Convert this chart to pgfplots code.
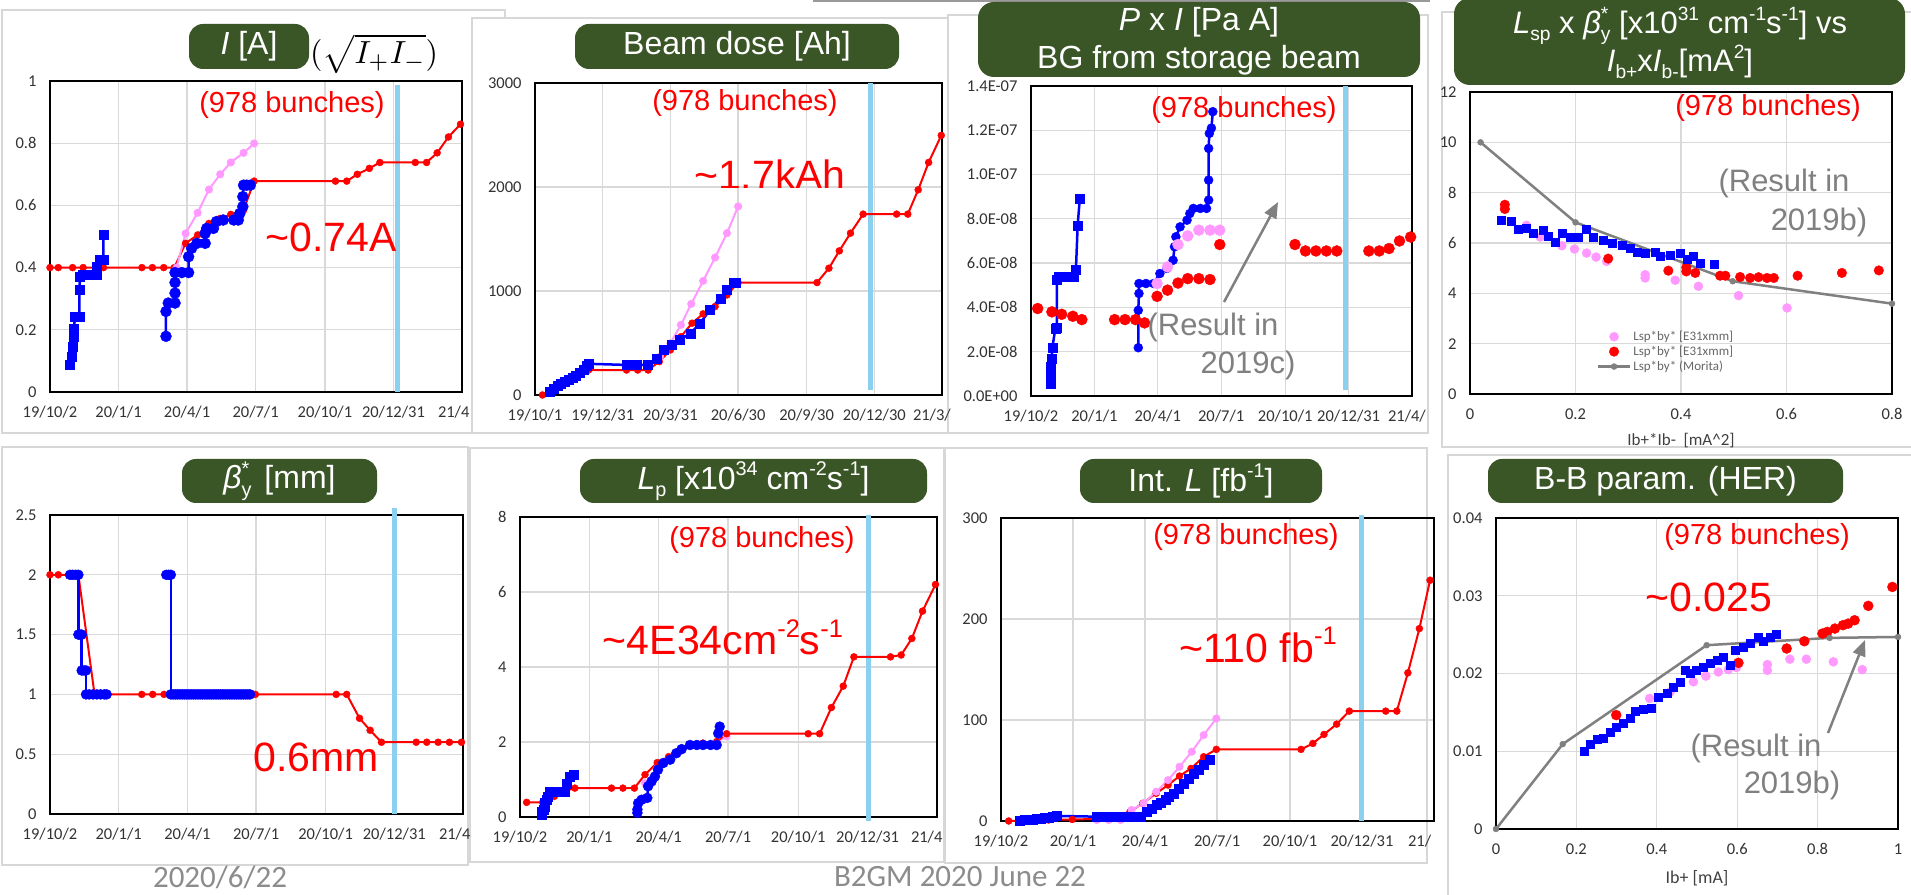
\documentclass[border=0pt]{standalone}
\usepackage{fontspec}
\setmainfont{Liberation Sans}
\newfontfamily\carl{Carlito}
\usepackage{graphicx}
\usepackage{pgfplots}
\pgfplotsset{compat=1.18}
\usetikzlibrary{arrows.meta}
\definecolor{tgreen}{RGB}{58,86,38}
\definecolor{myred}{RGB}{255,0,0}
\definecolor{myblue}{RGB}{0,0,255}
\definecolor{mypink}{RGB}{255,153,255}
\definecolor{mygray}{RGB}{128,128,128}
\definecolor{cyanl}{RGB}{140,208,240}
\definecolor{gridc}{RGB}{217,217,217}
\definecolor{framec}{RGB}{215,215,215}
\definecolor{txtgray}{RGB}{128,128,128}
\definecolor{footgray}{RGB}{140,140,140}
\newcommand\up[1]{\raisebox{0.42em}{\scalebox{0.62}{#1}}}
\newcommand\dn[1]{\raisebox{-0.22em}{\scalebox{0.62}{#1}}}
\newcommand\stk[2]{\rlap{\up{#2}}\dn{#1}}
\newcommand\ttl{\fontsize{32}{34}\selectfont}
\newcommand\tbox[5]{\fill[tgreen, rounded corners=14pt] (#1,#2) rectangle (#3,#4);
  \node[text=white, font=\ttl, inner sep=0pt] at ({(#1+#3)/2},{(#2+#4)/2}) {#5};}
\tikzset{cyanline/.style={draw=cyanl, line width=5pt}}
\pgfplotsset{
 panel/.style={scale only axis, anchor=south west, clip=false,
  axis line style={line width=1.4pt, black},
  grid=major, grid style={draw=gridc, line width=1.3pt},
  major tick length=0pt,
  tick label style={font=\carl\fontsize{16.5}{16.5}\selectfont, text=black!80},
  xticklabel style={yshift=-11pt}, yticklabel style={xshift=-10pt},
  scaled ticks=false},
 dates/.style={xmin=0, xmax=547, xtick={0,91,182,273,365,456,547}},
 redl/.style={color=myred, line width=2pt, mark=*, mark size=3.5pt, mark options={line width=0.4pt, fill=myred}},
 pinkl/.style={color=mypink, line width=2pt, mark=*, mark size=3.8pt, mark options={line width=0.4pt, fill=mypink}},
 bluesq/.style={color=myblue, line width=2.5pt, mark=square*, mark size=4.5pt, mark options={line width=0.4pt, fill=myblue}},
 bluec/.style={color=myblue, line width=2.5pt, mark=*, mark size=5pt, mark options={line width=0.4pt, fill=myblue}},
}
\begin{document}
\begin{tikzpicture}
\useasboundingbox (0,0) rectangle (1911pt,894pt);
\fill[white] (0,0) rectangle (1911pt,894pt);
\begin{scope}[x=1pt,y=-1pt,yshift=894pt]
\draw[framec, line width=1.2pt, fill=white] (2,10) rectangle (505,433);
\draw[framec, line width=1.2pt, fill=white] (472,18) rectangle (957,433);
\draw[framec, line width=1.2pt, fill=white] (948,15) rectangle (1428,433);
\draw[framec, line width=1.2pt, fill=white] (1442,12) rectangle (1915,447);
\draw[framec, line width=1.2pt, fill=white] (2,447) rectangle (468,865);
\draw[framec, line width=1.2pt, fill=white] (470,448) rectangle (944,862);
\draw[framec, line width=1.2pt, fill=white] (945,448) rectangle (1427,863);
\draw[framec, line width=1.2pt, fill=white] (1448,455) rectangle (1915,900);
\draw[gray!80, line width=3pt] (813,1) -- (1430,1);
\end{scope}

% ---------------- Panel 1: I [A]
\begin{axis}[panel, dates, at={(50pt,502pt)}, width=412pt, height=311pt,
  ymin=0, ymax=1, ytick={0,0.2,0.4,0.6,0.8,1}, yticklabels={0,0.2,0.4,0.6,0.8,1},
  xticklabels={19/10/2,20/1/1,20/4/1,20/7/1,20/10/1,20/12/31,{\makebox[0pt][l]{\hspace{-24pt}21/4}}}]
\draw[cyanline] (axis cs:462,0) -- (axis cs:462,0.987);
\addplot[redl] coordinates {(0,0.40) (11,0.40) (30,0.40) (44,0.40) (71,0.40) (122,0.40) (136,0.40) (151,0.40) (165,0.40) (180,0.478) (196,0.505) (211,0.542) (226,0.558) (240,0.571) (257,0.585) (271,0.678) (379,0.678) (394,0.678) (408,0.70) (424,0.719) (438,0.738) (485,0.738) (500,0.738) (514,0.769) (529,0.82) (545,0.861)};
\addplot[pinkl] coordinates {(168,0.40) (180,0.51) (196,0.576) (211,0.651) (226,0.70) (240,0.738) (257,0.769) (271,0.799)};
\addplot[bluesq] coordinates {(26.6,0.088) (28.8,0.115) (30,0.145) (31,0.178) (31.9,0.205) (33.2,0.243) (39,0.243) (39,0.328) (39.9,0.371) (44,0.376) (53,0.376) (62,0.376) (62,0.403) (66,0.425) (71,0.425) (71,0.505)};
\addplot[bluec, mark size=5.5pt] coordinates {(154,0.179) (154,0.259) (157,0.286) (166,0.286) (166,0.318) (166,0.352) (166,0.384) (175,0.384) (184,0.384) (184,0.435) (188,0.462) (195,0.478) (206,0.478) (206,0.51) (208,0.526) (217,0.526) (221,0.548) (230,0.553) (244,0.553) (250,0.553) (252,0.574) (256,0.596) (256,0.628) (257,0.665) (261,0.665) (266,0.665)};
\end{axis}

% ---------------- Panel 2: Beam dose
\begin{axis}[panel, dates, at={(535pt,499pt)}, width=407pt, height=312pt,
  ymin=0, ymax=3000, ytick={0,1000,2000,3000}, yticklabels={0,1000,2000,3000},
  xticklabels={19/10/1,19/12/31,20/3/31,20/6/30,20/9/30,20/12/30,{\makebox[0pt][l]{\hspace{-29pt}21/3/}}}]
\draw[cyanline] (axis cs:450.5,50) -- (axis cs:450.5,3000);
\addplot[redl] coordinates {(10,0) (25,60) (40,120) (55,180) (72,240) (123,240) (138,240) (152,240) (167,321) (182,433) (196,560) (211,690) (226,780) (242,850) (258,962) (273,1081) (379,1081) (395,1219) (409,1386) (424,1556) (441,1739) (486,1739) (501,1739) (515,1973) (529,2236) (546,2496)};
\addplot[pinkl] coordinates {(168,369) (182,497) (196,674) (210,876) (226,1097) (242,1322) (258,1556) (273,1813)};
\addplot[bluesq] coordinates {(20,32) (25,60) (30,85) (35,105) (40,125) (45,150) (50,170) (55,190) (60,215) (65,245) (70,280) (72,300) (123,289) (137,289) (152,289) (164,353) (173,433) (184,481) (195,530) (209,594) (222,690) (235,818) (249,930) (258,1011) (267,1075) (270,1080)};
\end{axis}

% ---------------- Panel 3: P x I
\begin{axis}[panel, dates, at={(1031pt,498pt)}, width=381pt, height=310pt,
  ymin=0, ymax=14, ytick={0,2,4,6,8,10,12,14},
  yticklabels={0.0E+00,2.0E-08,4.0E-08,6.0E-08,8.0E-08,1.0E-07,1.2E-07,1.4E-07},
  xticklabels={19/10/2,20/1/1,20/4/1,20/7/1,20/10/1,20/12/31,{\makebox[0pt][l]{\hspace{-24pt}21/4/}}}]
\draw[cyanline] (axis cs:452,0.27) -- (axis cs:452,14);
\addplot[bluesq] coordinates {(27.7,0.56) (28,0.9) (28.7,1.31) (29.5,1.7) (30.6,2.2) (35,3.04) (37,3.1) (37,5.23) (40,5.38) (50,5.38) (61,5.38) (64.5,5.71) (67,7.71) (70,8.9)};
\addplot[bluec, mark size=4.5pt] coordinates {(154,2.18) (154,3.87) (155,4.63) (155,5.08) (165,5.08) (176,5.08) (185,5.53) (195,5.76) (204,6.13) (206,6.74) (208,7.19) (214,7.64) (224,7.94) (228,8.24) (233,8.47) (243,8.47) (252,8.47) (255,8.85) (255,9.75) (255,11.18) (256,11.86) (259,12.1) (261,12.84)};
\addplot[myred, only marks, mark=*, mark size=5.5pt] coordinates {(9.6,3.95) (30,3.8) (44,3.69) (60,3.6) (73,3.45) (120,3.45) (135,3.45) (150,3.45) (163,3.3) (181,4.5) (196,4.78) (211,5.1) (225,5.3) (241,5.3) (257,5.26) (271,6.84) (379,6.84) (394,6.55) (409,6.55) (424,6.55) (439,6.55) (485,6.55) (500,6.55) (514,6.66) (529,7.0) (545,7.18)};
\addplot[mypink, only marks, mark=*, mark size=5.5pt] coordinates {(181,5.08) (196,5.83) (211,6.84) (225,7.23) (241,7.49) (257,7.49) (271,7.49)};
\end{axis}

% ---------------- Panel 4: Lsp x beta
\begin{axis}[panel, at={(1470pt,500pt)}, width=422pt, height=302pt,
  xmin=0, xmax=0.8, ymin=0, ymax=12,
  xtick={0,0.2,0.4,0.6,0.8}, xticklabels={0,0.2,0.4,0.6,0.8},
  ytick={0,2,4,6,8,10,12}, yticklabels={0,2,4,6,8,10,12},
  legend image code/.code={\draw[mark repeat=2,mark phase=2,#1] plot coordinates {(0pt,0pt) (16pt,0pt) (32pt,0pt)};},
  legend style={at={(axis description cs:0.30,0.215)}, anchor=north west, draw=none, fill=none,
    font=\carl\fontsize{13}{14}\selectfont, text=black!60, row sep=0pt, inner sep=0pt},
  legend cell align=left]
\addplot[mypink, only marks, mark=*, mark size=4.5pt] coordinates {(0.107,6.7) (0.133,6.24) (0.174,5.89) (0.198,5.76) (0.221,5.6) (0.239,5.44) (0.259,5.27) (0.332,4.74) (0.332,4.61) (0.389,4.52) (0.433,4.28) (0.509,3.91) (0.601,3.42)};
\addlegendentry{Lsp*by* [E31xmm]}
\addplot[myred, only marks, mark=*, mark size=4.8pt] coordinates {(0.066,7.52) (0.066,7.35) (0.262,5.38) (0.376,4.9) (0.41,5.03) (0.41,4.87) (0.427,4.81) (0.474,4.70) (0.484,4.70) (0.512,4.65) (0.531,4.61) (0.547,4.64) (0.563,4.61) (0.576,4.61) (0.621,4.70) (0.705,4.81) (0.775,4.91)};
\addlegendentry{Lsp*by* [E31xmm]}
\addplot[mygray, line width=2.5pt, mark=*, mark size=3pt, mark options={fill=mygray, line width=0.4pt}] coordinates {(0.02,10.0) (0.2,6.82) (0.498,4.48) (0.8,3.59)};
\addlegendentry{Lsp*by* (Morita)}
\addplot[myblue, only marks, mark=square*, mark size=4pt, forget plot] coordinates {(0.060,6.90) (0.079,6.86) (0.092,6.53) (0.107,6.57) (0.120,6.40) (0.139,6.50) (0.149,6.26) (0.161,6.03) (0.174,6.40) (0.190,6.24) (0.206,6.24) (0.220,6.56) (0.234,6.24) (0.253,6.13) (0.269,6.0) (0.288,5.93) (0.304,5.80) (0.316,5.63) (0.332,5.58) (0.351,5.63) (0.360,5.47) (0.380,5.50) (0.398,5.58) (0.411,5.34) (0.424,5.47) (0.436,5.21) (0.462,5.17)};
\end{axis}

% ---------------- Panel 5: beta_y*
\begin{axis}[panel, dates, at={(50pt,80pt)}, width=413pt, height=299pt,
  ymin=0, ymax=2.5, ytick={0,0.5,1,1.5,2,2.5}, yticklabels={0,0.5,1,1.5,2,2.5},
  xticklabels={19/10/2,20/1/1,20/4/1,20/7/1,20/10/1,20/12/31,{\makebox[0pt][l]{\hspace{-24pt}21/4}}}]
\draw[cyanline] (axis cs:456,0) -- (axis cs:456,2.56);
\addplot[redl] coordinates {(0,2.0) (11,2.0) (37.6,2.0) (59,1.0) (121.5,1.0) (136,1.0) (151,1.0) (272,1.0) (379,1.0) (393,1.0) (410,0.80) (424,0.70) (439,0.60) (485,0.60) (499,0.60) (514,0.60) (529,0.60) (545,0.60)};
\addplot[bluec] coordinates {(26.5,2) (30,2) (34,2) (37.6,2) (37.6,1.5) (40,1.5) (42,1.5) (42,1.2) (45,1.2) (47.7,1.2) (47.7,1.0) (52,1) (57,1) (62,1) (67,1) (72,1) (75,1)};
\addplot[bluec] coordinates {(154,2) (157,2) (160,2) (160,1) (163,1) (166,1) (169,1) (172,1) (175,1) (178,1) (181,1) (184,1) (187,1) (190,1) (193,1) (196,1) (199,1) (202,1) (205,1) (208,1) (211,1) (214,1) (217,1) (220,1) (223,1) (226,1) (229,1) (232,1) (235,1) (238,1) (241,1) (244,1) (247,1) (250,1) (253,1) (256,1) (259,1) (262,1) (265,1)};
\end{axis}

% ---------------- Panel 6: Lp
\begin{axis}[panel, dates, at={(520pt,77pt)}, width=417pt, height=300pt,
  ymin=0, ymax=8, ytick={0,2,4,6,8}, yticklabels={0,2,4,6,8},
  xticklabels={19/10/2,20/1/1,20/4/1,20/7/1,20/10/1,20/12/31,{\makebox[0pt][l]{\hspace{-26pt}21/4}}}]
\draw[cyanline] (axis cs:456.6,-0.1) -- (axis cs:456.6,8.05);
\addplot[pinkl] coordinates {(164,0.9) (180,1.3) (195,1.55) (210,1.75) (225,1.9) (240,1.95) (258,2.0) (271,2.15)};
\addplot[redl] coordinates {(8.7,0.39) (29.7,0.39) (45,0.55) (60,0.7) (72,0.77) (120,0.77) (135,0.77) (150,0.77) (164,1.13) (180,1.45) (195,1.61) (210,1.79) (225,1.92) (240,1.97) (258,2.01) (271,2.22) (378,2.22) (393,2.22) (408.5,2.92) (424,3.49) (438,4.27) (486,4.27) (500,4.32) (514,4.76) (528,5.49) (545,6.2)};
\addplot[bluesq] coordinates {(28,0.06) (29,0.13) (31,0.2) (32,0.28) (33,0.37) (35,0.45) (36,0.55) (39,0.68) (44,0.68) (48,0.68) (53,0.68) (59,0.68) (61,0.9) (65.5,1.08) (70,1.13)};
\addplot[bluec] coordinates {(154,0.11) (154,0.2) (155,0.37) (159.5,0.46) (167,0.51) (168,0.82) (172.6,0.95) (177,1.08) (181,1.26) (188,1.44) (197,1.53) (205,1.70) (212,1.81) (223,1.92) (232,1.92) (240,1.92) (250,1.92) (258,1.92) (260,2.23) (262,2.41)};
\end{axis}

% ---------------- Panel 7: Int L
\begin{axis}[panel, dates, at={(1001pt,73pt)}, width=433pt, height=303pt,
  ymin=0, ymax=300, ytick={0,100,200,300}, yticklabels={0,100,200,300},
  xticklabels={19/10/2,20/1/1,20/4/1,20/7/1,20/10/1,20/12/31,{\makebox[0pt][l]{\hspace{-26pt}21/}}}]
\draw[cyanline] (axis cs:456,0) -- (axis cs:456,303);
\addplot[redl] coordinates {(9.7,0) (30,0.5) (60,1) (90,1.5) (121,2) (136,3) (151,5) (163,9.2) (179,17.5) (196,27.4) (211,35.6) (225.5,44.5) (240,52) (256,63.6) (272,70.9) (379,70.9) (394,76.8) (408,85.7) (424,95.9) (440,108.8) (486,108.8) (500,108.8) (514,146.7) (528.5,190.5) (542,238.4)};
\addplot[pinkl] coordinates {(121,1) (136,1) (151,1) (165,10.9) (180,17.5) (196,29) (211,40.5) (225.5,53.7) (241,68.6) (256,85) (272,101.5)};
\addplot[bluesq] coordinates {(24,0.5) (30,1) (35,1.3) (40,1.6) (45,2) (50,2.4) (55,3) (60,3.6) (65,4.3) (70.7,5) (121,4.3) (130,4.3) (140,4.3) (150,4.3) (160,4.3) (170,4.3) (176,4.6) (184,9.2) (190,12) (197,15.8) (202,18) (207.5,20.8) (212,24) (218,27.4) (224,32) (230.6,37.3) (237,42) (243,47) (250,51) (256,55.4) (264,60.3)};
\end{axis}

% ---------------- Panel 8: B-B param
\begin{axis}[panel, at={(1496pt,65pt)}, width=402pt, height=311pt,
  xmin=0, xmax=1, ymin=0, ymax=0.04,
  xtick={0,0.2,0.4,0.6,0.8,1}, xticklabels={0,0.2,0.4,0.6,0.8,1},
  ytick={0,0.01,0.02,0.03,0.04}, yticklabels={0,0.01,0.02,0.03,0.04}]
\addplot[mypink, only marks, mark=*, mark size=4.5pt] coordinates {(0.382,0.01679) (0.433,0.01764) (0.491,0.01893) (0.522,0.01966) (0.553,0.0202) (0.578,0.0205) (0.598,0.02077) (0.675,0.02115) (0.675,0.0204) (0.731,0.02184) (0.772,0.02184) (0.839,0.0215) (0.911,0.0205)};
\addplot[myred, only marks, mark=*, mark size=5pt] coordinates {(0.299,0.01465) (0.603,0.02137) (0.723,0.02321) (0.767,0.02415) (0.812,0.02514) (0.824,0.02535) (0.843,0.02578) (0.863,0.02621) (0.876,0.02642) (0.892,0.02685) (0.926,0.0287) (0.986,0.03113)};
\addplot[mygray, line width=2.5pt, mark=*, mark size=3pt, mark options={fill=mygray, line width=0.4pt}] coordinates {(0,0) (0.166,0.01092) (0.524,0.02364) (0.830,0.02458) (1.0,0.0247)};
\addplot[myblue, only marks, mark=square*, mark size=4pt] coordinates {(0.219,0.01006) (0.234,0.0109) (0.251,0.01156) (0.267,0.0117) (0.284,0.0125) (0.300,0.01306) (0.317,0.01358) (0.334,0.01422) (0.346,0.0151) (0.367,0.0154) (0.387,0.0155) (0.404,0.0170) (0.425,0.01752) (0.441,0.01829) (0.458,0.01893) (0.470,0.02043) (0.483,0.0200) (0.499,0.02043) (0.516,0.02086) (0.532,0.02128) (0.549,0.02171) (0.565,0.0221) (0.582,0.0211) (0.594,0.023) (0.615,0.0234) (0.632,0.0239) (0.652,0.0247) (0.665,0.0241) (0.681,0.0247) (0.698,0.0251)};
\end{axis}

% ---------------- Overlay texts
\begin{scope}[x=1pt,y=-1pt,yshift=894pt]
% titles
\tbox{189}{24}{309}{69}{\textit{I} [A]}
\node[anchor=west, inner sep=0pt] at (310,54) {\scalebox{3.2}{$(\sqrt{I_+I_-})$}};
\tbox{575}{24}{899}{69}{Beam dose [Ah]}
\fill[tgreen, rounded corners=16pt] (978,2) rectangle (1420,77);
\node[text=white, align=center, font=\fontsize{32}{38}\selectfont, inner sep=0pt] at (1199,41) {\textit{P} x \textit{I} [Pa A]\\BG from storage beam};
\fill[tgreen, rounded corners=16pt] (1454,-2) rectangle (1905,85);
\node[text=white, align=center, font=\fontsize{31}{37}\selectfont, inner sep=0pt] at (1680,43) {\textit{L}\dn{sp} x \textit{β}\stk{y}{*} [x10\up{31} cm\up{-1}s\up{-1}] vs\\\textit{I}\dn{b+}x\textit{I}\dn{b-}[mA\up{2}]};
\tbox{182}{459}{377}{503}{\textit{β}\stk{y}{*}\hspace{0.4em}[mm]}
\tbox{580}{459}{927}{503}{\textit{L}\dn{p} [x10\up{34} cm\up{-2}s\up{-1}]}
\tbox{1080}{459}{1322}{503}{Int. \textit{L} [fb\up{-1}]}
\tbox{1488}{459}{1843}{503}{B-B param. (HER)}
% red annotations
\begin{scope}[every node/.style={text=myred, font=\fontsize{29}{29}\selectfont, inner sep=0pt}]
\node at (292,105) {(978 bunches)};
\node at (745,103) {(978 bunches)};
\node at (1244,110) {(978 bunches)};
\node at (1768,108) {(978 bunches)};
\node at (762,540) {(978 bunches)};
\node at (1246,537) {(978 bunches)};
\node at (1757,537) {(978 bunches)};
\end{scope}
\begin{scope}[every node/.style={text=myred, font=\fontsize{41}{41}\selectfont, inner sep=0pt}]
\node at (331,237) {\textasciitilde 0.74A};
\begin{scope}
\clip (640,120) rectangle (900,188);
\node at (770,175) {\textasciitilde 1.7kAh};
\end{scope}
\node at (316,757) {0.6mm};
\node at (723,637) {\textasciitilde 4E34cm\up{-2}s\up{-1}};
\node at (1258,645) {\textasciitilde 110 fb\up{-1}};
\node at (1709,597) {\textasciitilde 0.025};
\end{scope}
% gray annotations
\begin{scope}[every node/.style={text=txtgray, font=\fontsize{31}{31}\selectfont, inner sep=0pt}]
\node at (1213,327) {(Result in};
\node at (1248,365) {2019c)};
\node at (1784,183) {(Result in};
\node at (1819,222) {2019b)};
\node at (1756,748) {(Result in};
\node at (1792,785) {2019b)};
\end{scope}
\draw[mygray, line width=2.5pt, -{Triangle[length=16pt, width=13pt]}] (1224,302) -- (1278,202);
\draw[mygray, line width=2.5pt, -{Triangle[length=16pt, width=13pt]}] (1828,733) -- (1865,640);
% axis labels
\node[text=black!75, font=\carl\fontsize{17}{17}\selectfont] at (1681,441) {Ib+*Ib-\ \ [mA\textasciicircum 2]};
\node[text=black!75, font=\carl\fontsize{18}{18}\selectfont] at (1697,878) {Ib+ [mA]};
% footer
\node[text=footgray, font=\carl\fontsize{31}{31}\selectfont] at (220,877) {2020/6/22};
\node[text=footgray, font=\carl\fontsize{31}{31}\selectfont] at (960,877) {B2GM 2020 June 22};
\end{scope}
\end{tikzpicture}
\end{document}
